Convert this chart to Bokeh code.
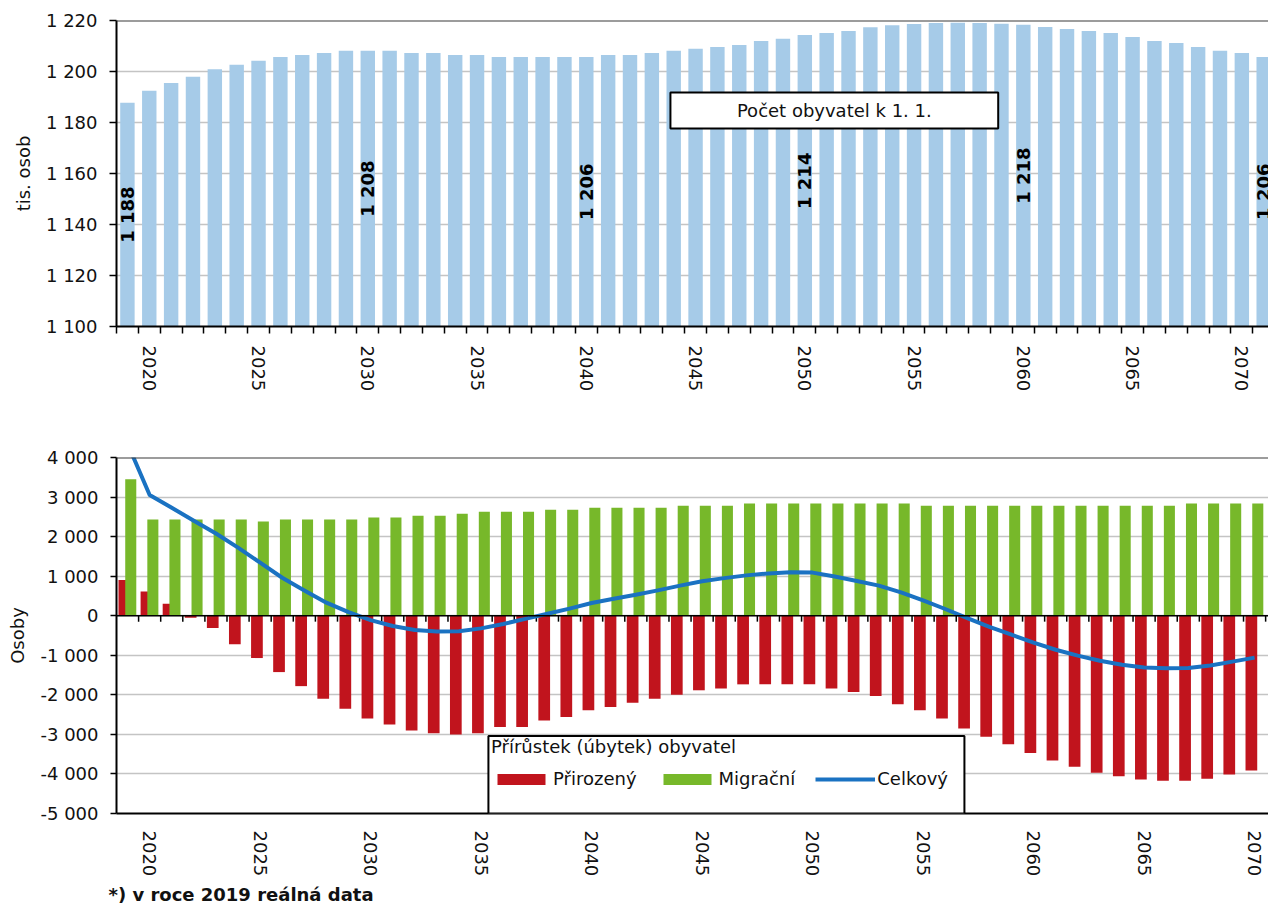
import math
from bokeh.plotting import figure
from bokeh.models import (FixedTicker, Span, BoxAnnotation, Label, Legend,
                          LegendItem, Title, ColumnDataSource)
from bokeh.layouts import column
from bokeh.core.properties import value
from bokeh.transform import dodge
from bokeh.embed import file_html
from bokeh.resources import INLINE

FONT = "DejaVu Sans"

# ---------------- data ----------------
pop_years = list(range(2019, 2072))
population = [1187.7, 1192.5, 1195.5, 1197.9, 1200.9, 1202.6, 1204.2, 1205.7,
              1206.5, 1207.3, 1208.1, 1208.1, 1208.1, 1207.3, 1207.3, 1206.5,
              1206.5, 1205.7, 1205.7, 1205.7, 1205.7, 1205.7, 1206.5, 1206.5,
              1207.3, 1208.1, 1208.9, 1209.6, 1210.4, 1212.0, 1212.8, 1214.3,
              1215.1, 1215.9, 1217.4, 1218.1, 1218.6, 1219.0, 1219.1, 1219.0,
              1218.7, 1218.3, 1217.5, 1216.7, 1215.9, 1215.1, 1213.5, 1212.0,
              1211.2, 1209.6, 1208.1, 1207.3, 1205.7]
label_years = [2019, 2030, 2040, 2050, 2060, 2071]
label_texts = ["1 188", "1 208", "1 206", "1 214", "1 218", "1 206"]

chg_years = list(range(2019, 2071))
natural = [900, 610, 300, -50, -310, -720, -1070, -1425, -1780, -2100,
           -2350, -2600, -2750, -2900, -2970, -3000, -2970, -2815, -2815, -2650,
           -2560, -2390, -2310, -2200, -2100, -2000, -1885, -1840, -1735, -1735,
           -1735, -1735, -1840, -1930, -2030, -2240, -2390, -2600, -2850, -3060,
           -3250, -3470, -3660, -3820, -3970, -4060, -4140, -4170, -4170, -4120,
           -4015, -3915]
migration = [3450, 2430, 2430, 2430, 2430, 2430, 2380, 2430, 2430, 2430,
             2430, 2480, 2480, 2530, 2530, 2580, 2630, 2630, 2630, 2680,
             2680, 2730, 2730, 2730, 2730, 2780, 2780, 2780, 2835, 2835,
             2835, 2835, 2835, 2835, 2835, 2835, 2780, 2780, 2780, 2780,
             2780, 2780, 2780, 2780, 2780, 2780, 2780, 2780, 2835, 2835,
             2835, 2835]
total = [4350, 3050, 2730, 2400, 2080, 1720, 1340, 960, 640, 330,
         90, -110, -260, -360, -400, -390, -320, -210, -80, 50,
         180, 320, 430, 530, 640, 760, 870, 950, 1020, 1070,
         1100, 1090, 990, 880, 760, 590, 390, 170, -60, -280,
         -480, -680, -860, -1010, -1140, -1240, -1310, -1330, -1320, -1260,
         -1160, -1060]

top_yticks = list(range(1100, 1221, 20))
bot_yticks = list(range(-5000, 4001, 1000))
year_ticks = list(range(2020, 2071, 5))


def fmt(v):
    return f"{v:,}".replace(",", " ")


def style_axes(p):
    for ax in p.axis:
        ax.axis_line_color = "black"
        ax.axis_line_width = 2
        ax.major_label_text_font = FONT
        ax.major_label_text_font_size = "18px"
        ax.major_label_text_color = "#111111"
        ax.axis_label_text_font = FONT
        ax.axis_label_text_font_size = "18px"
        ax.axis_label_text_font_style = "normal"
        ax.axis_label_text_color = "#111111"
        ax.major_tick_line_color = "black"
        ax.major_tick_line_width = 1.5
        ax.minor_tick_line_color = "black"
        ax.minor_tick_line_width = 1.5


# ---------------- top chart ----------------
top = figure(width=1268, height=400, x_range=(2018.5, 2071.22), y_range=(1100, 1220),
             output_backend="svg", toolbar_location=None, title=None,
             min_border_left=116, min_border_right=0, min_border_top=20,
             min_border_bottom=74)
top.outline_line_color = None
top.background_fill_color = "white"
top.xgrid.visible = False
top.ygrid.grid_line_color = "#c4c4c4"
top.ygrid.grid_line_width = 1.5

top.vbar(x=pop_years, top=population, bottom=1100, width=0.66,
         fill_color="#a6cbe8", line_color=None)

lab_y = [(1100 + population[pop_years.index(y)]) / 2 for y in label_years]
top.text(x=label_years, y=lab_y, text=label_texts, angle=math.pi / 2,
         text_align="center", text_baseline="middle", text_font=value(FONT),
         text_font_style="bold", text_font_size="18px", text_color="black")

top.add_layout(Span(location=1220, dimension="width", line_color="#3a3a3a", line_width=2))
top.add_layout(BoxAnnotation(left=2043.85, right=2058.85, bottom=1177.6, top=1191.8,
                             fill_color="white", fill_alpha=1, line_color="black",
                             line_width=2, line_alpha=1))
top.add_layout(Label(x=2051.35, y=1184.7, text="Počet obyvatel k 1. 1.",
                     text_align="center", text_baseline="middle", text_font=FONT,
                     text_font_size="18px", text_color="#111111"))

style_axes(top)
xa = top.xaxis[0]
xa.ticker = FixedTicker(ticks=year_ticks, minor_ticks=[y - 0.5 for y in pop_years])
xa.major_label_orientation = "vertical"
xa.major_tick_out = 0
xa.major_tick_in = 0
xa.minor_tick_out = 7
xa.minor_tick_in = 0
xa.major_label_standoff = 12

ya = top.yaxis[0]
ya.ticker = FixedTicker(ticks=top_yticks)
ya.major_label_overrides = {v: fmt(v) for v in top_yticks}
ya.major_tick_out = 7
ya.major_tick_in = 0
ya.minor_tick_out = 0
ya.minor_tick_in = 0
ya.major_label_standoff = 12
ya.axis_label = "tis. osob"
ya.axis_label_standoff = 9

# ---------------- bottom chart ----------------
bot = figure(width=1268, height=508, x_range=(2018.5, 2070.63), y_range=(-5000, 4000),
             output_backend="svg", toolbar_location=None, title=None,
             min_border_left=116, min_border_right=0, min_border_top=57,
             min_border_bottom=95)
bot.outline_line_color = None
bot.xgrid.visible = False
bot.ygrid.grid_line_color = "#c4c4c4"
bot.ygrid.grid_line_width = 1.5

src = ColumnDataSource(dict(year=chg_years, natural=natural, migration=migration,
                            total=total))
r_nat = bot.vbar(x=dodge("year", -0.145), top="natural", width=0.53,
                 fill_color="#c1141d", line_color=None, source=src)
r_mig = bot.vbar(x=dodge("year", 0.145), top="migration", width=0.5,
                 fill_color="#77b82a", line_color=None, source=src)

bot.add_layout(Span(location=0, dimension="width", line_color="black", line_width=1.5))
bounds = [y + 0.5 for y in chg_years]
bot.segment(x0=bounds, y0=[0] * len(bounds), x1=bounds, y1=[-150] * len(bounds),
            line_color="black", line_width=1.5)

r_tot = bot.line(x="year", y="total", line_width=4, line_color="#1a72c2",
                 line_join="round", source=src)

bot.add_layout(Span(location=4000, dimension="width", line_color="#3a3a3a", line_width=2))

bot.add_layout(BoxAnnotation(left=2035.33, right=2056.87, bottom=-5000, top=-3040,
                             fill_color="white", fill_alpha=1, line_color="black",
                             line_width=2, line_alpha=1))
legend = Legend(items=[LegendItem(label="Přirozený", renderers=[r_nat]),
                       LegendItem(label="Migrační", renderers=[r_mig]),
                       LegendItem(label="Celkový", renderers=[r_tot])],
                orientation="horizontal", location=(375, 24),
                title="Přírůstek (úbytek) obyvatel",
                border_line_color=None, background_fill_alpha=0,
                padding=6, margin=0, spacing=20,
                glyph_width=60, glyph_height=14, label_height=14,
                label_standoff=2, title_standoff=11,
                label_text_font=FONT, label_text_font_size="18px",
                label_text_color="#111111",
                title_text_font=FONT, title_text_font_size="18px",
                title_text_font_style="normal", title_text_color="#111111")
bot.add_layout(legend, "center")

style_axes(bot)
bxa = bot.xaxis[0]
bxa.ticker = FixedTicker(ticks=year_ticks)
bxa.major_label_orientation = "vertical"
bxa.major_tick_out = 0
bxa.major_tick_in = 0
bxa.minor_tick_out = 0
bxa.minor_tick_in = 0
bxa.major_label_standoff = 17

bya = bot.yaxis[0]
bya.ticker = FixedTicker(ticks=bot_yticks)
bya.major_label_overrides = {v: fmt(v) for v in bot_yticks}
bya.major_tick_out = 6
bya.major_tick_in = 0
bya.minor_tick_out = 0
bya.minor_tick_in = 0
bya.major_label_standoff = 12
bya.axis_label = "Osoby"
bya.axis_label_standoff = 9

bot.add_layout(Title(text="*) v roce 2019 reálná data", align="left",
                     text_font=FONT, text_font_size="18px", text_font_style="bold",
                     text_color="#111111", offset=-8, standoff=4), "below")

layout = column(top, bot, spacing=0)
open("out.html", "w").write(file_html(layout, INLINE))
